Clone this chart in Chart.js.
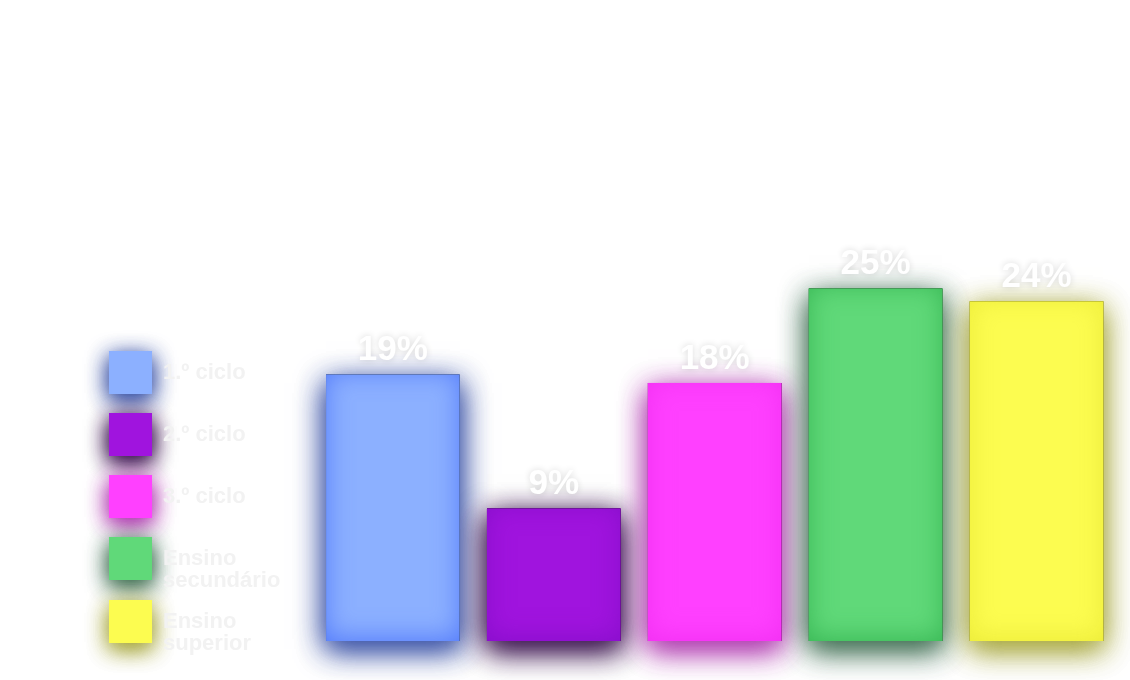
<!DOCTYPE html>
<html>
<head>
<meta charset="utf-8">
<script src="https://cdn.jsdelivr.net/npm/chart.js@4"></script>
<style>
  html, body { margin: 0; padding: 0; background: #ffffff; }
  #wrap { width: 1130px; height: 680px; position: relative; }
  #c { filter: blur(0.6px); }
</style>
</head>
<body>
<div id="wrap"><canvas id="c" width="1130" height="680"></canvas></div>
<script>
// ---- data ----
const categories = ['1.º ciclo', '2.º ciclo', '3.º ciclo', 'Ensino secundário', 'Ensino superior'];
const legendLines = [['1.º ciclo'], ['2.º ciclo'], ['3.º ciclo'], ['Ensino', 'secundário'], ['Ensino', 'superior']];
const values = [18.9, 9.4, 18.3, 25.0, 24.1];
const valueLabels = ['19%', '9%', '18%', '25%', '24%'];
const barColors = ['#8cb0ff', '#a014de', '#ff40ff', '#60d979', '#fcfc50'];
const glowColors = ['rgba(55,80,165,0.9)', 'rgba(60,20,80,0.95)', 'rgba(175,55,175,0.9)', 'rgba(55,105,75,0.85)', 'rgba(165,165,55,0.85)'];
const innerColors = ['rgba(70,110,250,0.8)', 'rgba(120,10,190,0.6)', 'rgba(230,30,230,0.5)', 'rgba(40,170,70,0.7)', 'rgba(225,225,40,0.6)'];
const yMax = 30;

function glowRect(ctx, x, y, w, h, fill, glow, blur, offY, passes) {
  for (let k = 0; k < passes; k++) {
    ctx.save();
    ctx.shadowColor = glow;
    ctx.shadowBlur = blur;
    ctx.shadowOffsetY = offY;
    ctx.fillStyle = fill;
    ctx.fillRect(x, y, w, h);
    ctx.restore();
  }
}

const glowPlugin = {
  id: 'glow',
  beforeDraw(chart) {
    const ctx = chart.ctx;
    const lg = chart.legend;
    if (!lg || !lg.legendHitBoxes) return;
    const bw = lg.options.labels.boxWidth, bh = lg.options.labels.boxHeight;
    lg.legendHitBoxes.forEach((hb, i) => {
      glowRect(ctx, hb.left, hb.top, bw, bh, barColors[i], glowColors[i], 22, 6, 2);
    });
  },
  beforeDatasetsDraw(chart) {
    const ctx = chart.ctx;
    const meta = chart.getDatasetMeta(0);
    meta.data.forEach((el, i) => {
      const p = el.getProps(['x', 'y', 'base', 'width'], true);
      glowRect(ctx, p.x - p.width / 2, p.y, p.width, p.base - p.y, barColors[i], glowColors[i], 28, 8, 2);
    });
  },
  afterDatasetsDraw(chart) {
    const ctx = chart.ctx;
    const meta = chart.getDatasetMeta(0);
    meta.data.forEach((el, i) => {
      const p = el.getProps(['x', 'y', 'base', 'width'], true);
      const x = p.x - p.width / 2, y = p.y, w = p.width, h = p.base - p.y;
      ctx.save();
      ctx.beginPath();
      ctx.rect(x, y, w, h);
      ctx.clip();
      ctx.shadowColor = innerColors[i];
      ctx.shadowBlur = 26;
      ctx.shadowOffsetY = -3;
      ctx.beginPath();
      ctx.rect(x - 80, y - 80, w + 160, h + 160);
      ctx.rect(x, y, w, h);
      ctx.fillStyle = '#000';
      ctx.fill('evenodd');
      ctx.restore();
      ctx.save();
      ctx.font = 'bold 35px "Liberation Sans", Arial, sans-serif';
      ctx.textAlign = 'center';
      ctx.textBaseline = 'middle';
      ctx.shadowColor = 'rgba(0,0,0,0.16)';
      ctx.shadowBlur = 7;
      ctx.fillStyle = '#ffffff';
      ctx.fillText(valueLabels[i], p.x, y - 24);
      ctx.restore();
    });
  }
};

new Chart(document.getElementById('c'), {
  type: 'bar',
  data: {
    labels: categories,
    datasets: [{
      label: 'Valores',
      data: values,
      backgroundColor: barColors,
      borderWidth: 0,
      categoryPercentage: 1,
      barPercentage: 0.83
    }]
  },
  options: {
    responsive: false,
    animation: false,
    devicePixelRatio: 1,
    layout: { padding: { left: 90, right: 13, top: 218, bottom: 17 } },
    scales: {
      x: {
        display: true,
        grid: { display: false },
        border: { display: false },
        ticks: { display: false },
        afterFit: (s) => { s.height = 22; }
      },
      y: {
        display: true,
        min: 0,
        max: yMax,
        grid: { display: false },
        border: { display: false },
        ticks: { display: false },
        afterFit: (s) => { s.width = 22; }
      }
    },
    plugins: {
      tooltip: { enabled: false },
      legend: {
        position: 'left',
        align: 'end',
        maxWidth: 222,
        labels: {
          boxWidth: 43,
          boxHeight: 43,
          padding: 19,
          color: '#f2f2f2',
          font: { family: '"Liberation Sans", Arial, sans-serif', size: 22, weight: 'bold', lineHeight: 1.0 },
          generateLabels: (chart) => categories.map((c, i) => ({
            text: legendLines[i].length > 1 ? legendLines[i] : legendLines[i][0],
            fillStyle: barColors[i],
            strokeStyle: barColors[i],
            fontColor: '#f2f2f2',
            lineWidth: 0,
            hidden: false,
            index: i
          }))
        }
      }
    }
  },
  plugins: [glowPlugin]
});
</script>
</body>
</html>
